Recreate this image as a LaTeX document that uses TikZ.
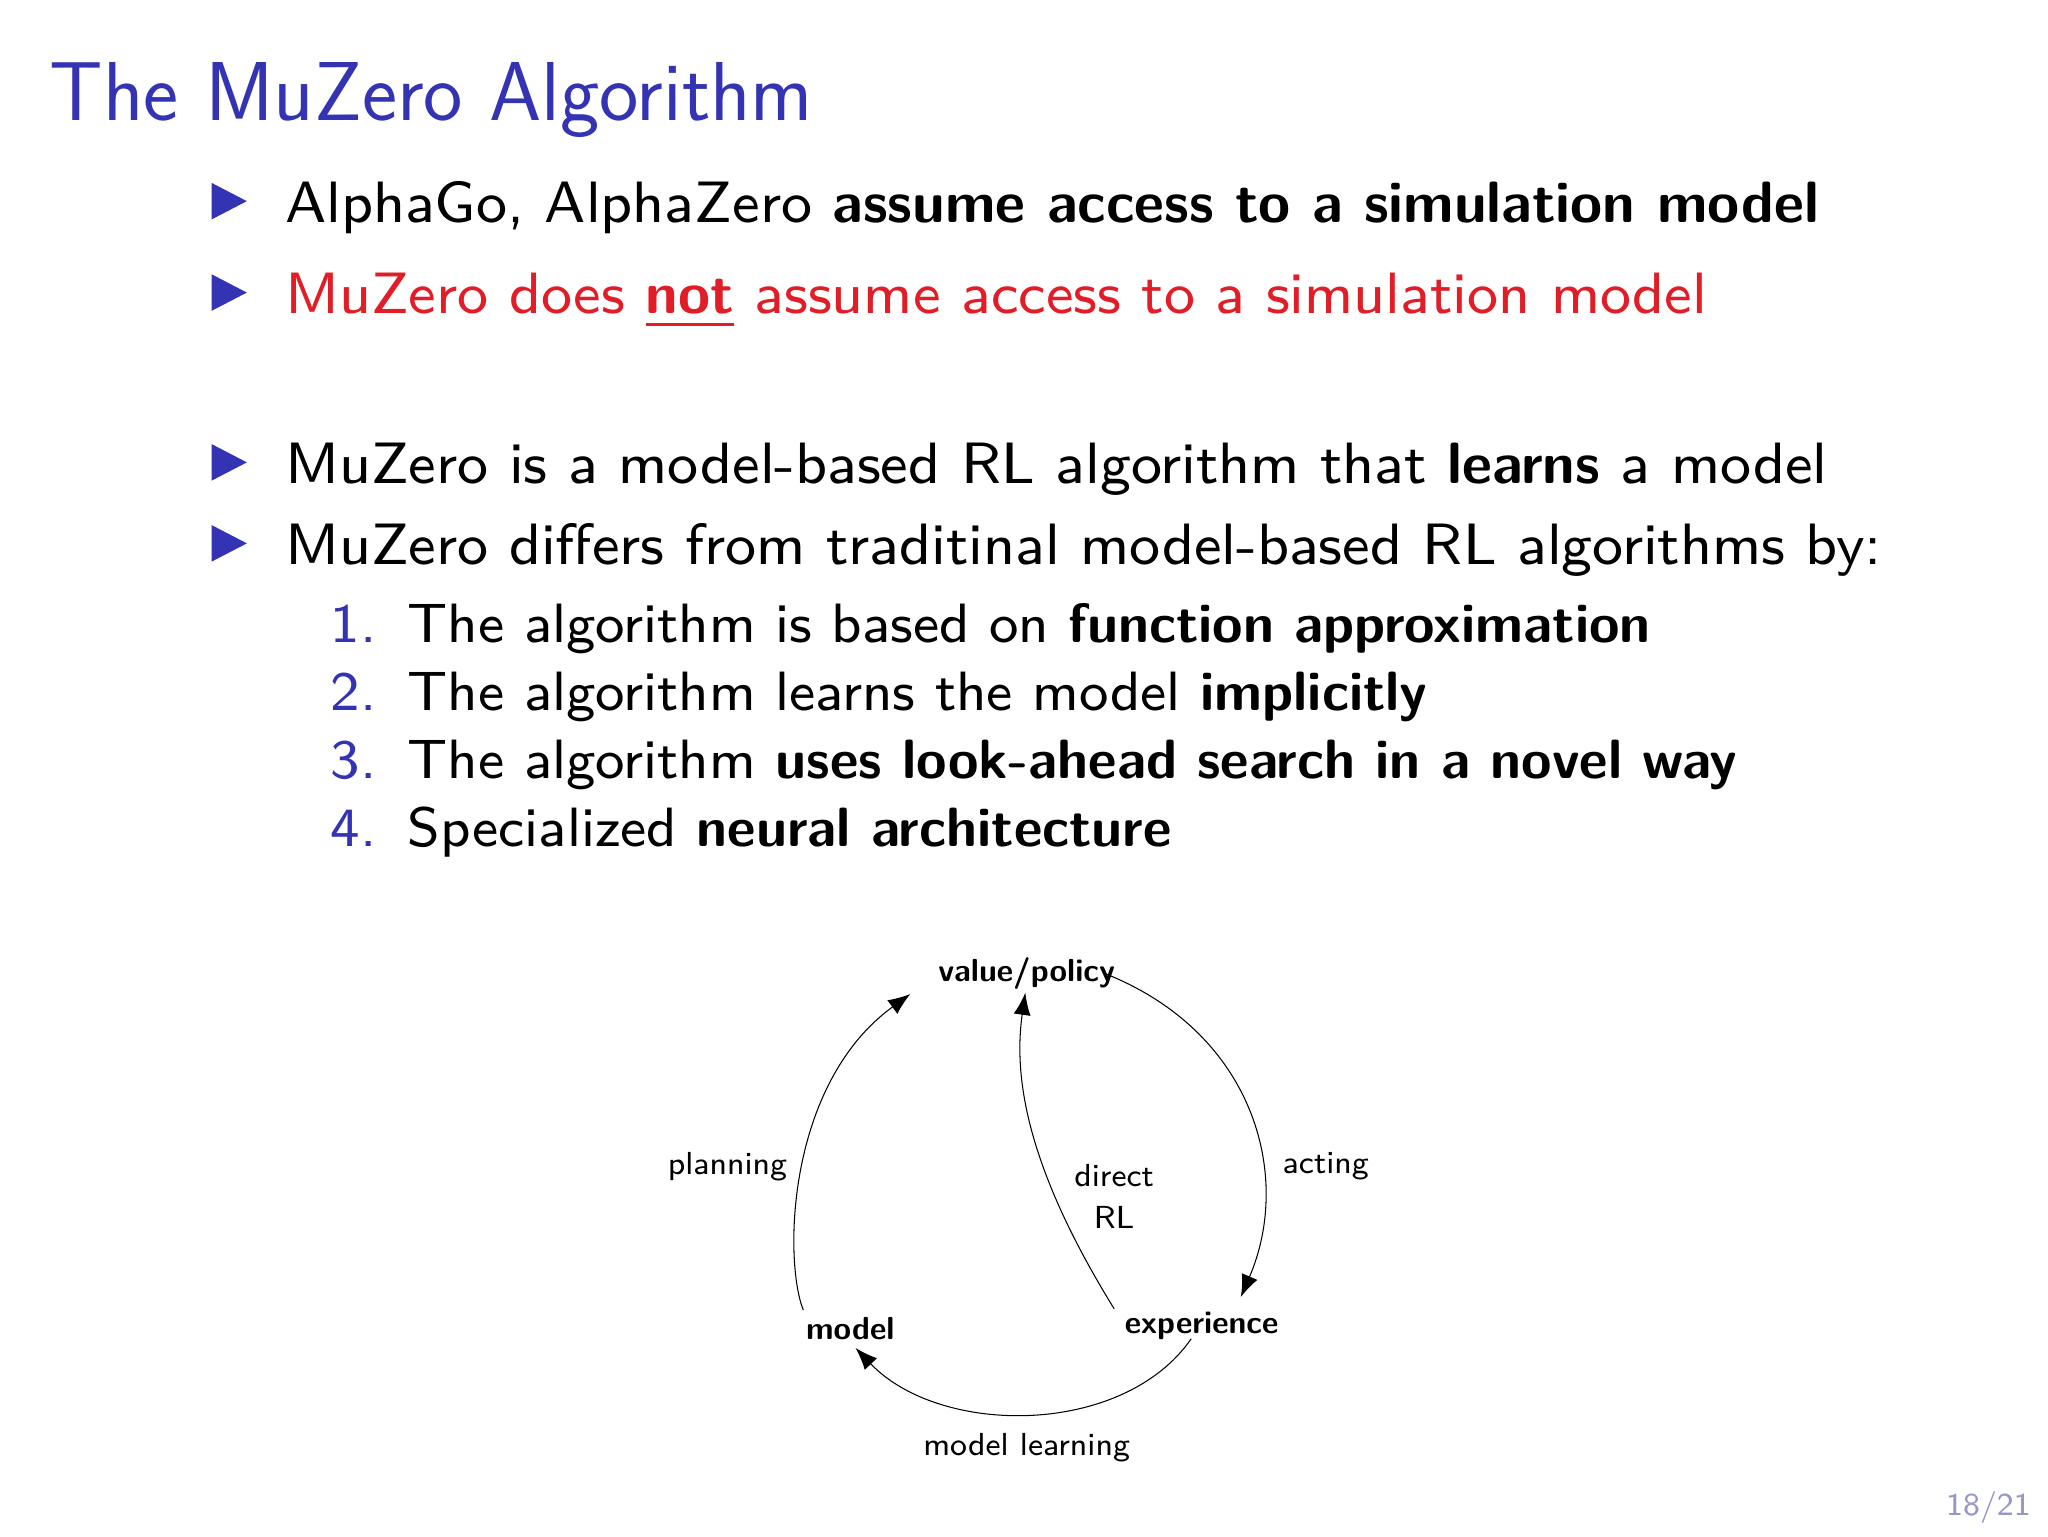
\documentclass[tikz,border=0pt]{standalone}
\usetikzlibrary{arrows.meta}
\definecolor{bblue}{RGB}{51,51,179}
\definecolor{rred}{RGB}{225,30,40}
\definecolor{pgray}{RGB}{150,150,200}
\newcommand{\bodyt}[1]{\scalebox{5.58}{\fontsize{8}{9}\selectfont #1}}
\newcommand{\enumt}[1]{\scalebox{5.3}{\fontsize{8}{9}\selectfont #1}}
\newcommand{\labt}[1]{\scalebox{3.05}{\fontsize{8}{9}\selectfont #1}}
\tikzset{
  txt/.style={anchor=base west,inner sep=0pt,font=\sffamily},
  lab/.style={inner sep=0pt,font=\sffamily},
  blab/.style={lab,font=\sffamily\bfseries},
  arc/.style={line width=0.8pt,-{Latex[length=17pt,width=13pt]}}
}
\begin{document}
\begin{tikzpicture}[x=1pt,y=-1pt]
\useasboundingbox[fill=white] (0,0) rectangle (1568,1176);
\node[anchor=base west,inner sep=0pt,text=bblue,font=\sffamily\fontsize{64}{70}\selectfont] (title) at (38,92) {The MuZero Algorithm};
\foreach \y in {170,240,370,432}{\fill[bblue] (162,\y-30) -- (189,\y-16) -- (162,\y-2) -- cycle;}
\node[txt] (b1) at (218,170) {\bodyt{AlphaGo, AlphaZero \textbf{assume access to a simulation model}}};
\node[txt,text=rred] (b2) at (218,240) {\bodyt{MuZero does \underline{\textbf{not}} assume access to a simulation model}};
\node[txt] (b3) at (218,370) {\bodyt{MuZero is a model-based RL algorithm that \textbf{learns} a model}};
\node[txt] (b4) at (218,432) {\bodyt{MuZero differs from traditinal model-based RL algorithms by:}};
\node[txt,text=bblue] (n1) at (253,492) {\enumt{1.}};
\node[txt,text=bblue] (n2) at (253,544) {\enumt{2.}};
\node[txt,text=bblue] (n3) at (253,596) {\enumt{3.}};
\node[txt,text=bblue] (n4) at (253,648) {\enumt{4.}};
\node[txt] (e1) at (312,492) {\enumt{The algorithm is based on \textbf{function approximation}}};
\node[txt] (e2) at (312,544) {\enumt{The algorithm learns the model \textbf{implicitly}}};
\node[txt] (e3) at (312,596) {\enumt{The algorithm \textbf{uses look-ahead search in a novel way}}};
\node[txt] (e4) at (312,648) {\enumt{Specialized \textbf{neural architecture}}};
% diagram
\node[blab] (vp) at (786,745) {\labt{value/policy}};
\node[blab] (mo) at (651,1017) {\labt{model}};
\node[blab] (ex) at (920,1015) {\labt{experience}};
\node[lab] (pl) at (557,893) {\labt{planning}};
\node[lab] (ac) at (1015,893) {\labt{acting}};
\node[lab] (dr1) at (853,900) {\labt{direct}};
\node[lab] (dr2) at (853,932) {\labt{RL}};
\node[lab] (ml) at (786,1108) {\labt{model learning}};
\coordinate (p1) at (615,1003); \coordinate (p2) at (697,761);
\coordinate (a1) at (845,745); \coordinate (a2) at (950,993);
\coordinate (m1) at (912,1025); \coordinate (m2) at (655,1032);
\coordinate (d1) at (853,1002); \coordinate (d2) at (785,760);
\draw[arc] (p1) .. controls (600,965) and (602,830) .. (p2);
\draw[arc] (a1) .. controls (960,790) and (990,900) .. (a2);
\draw[arc] (m1) .. controls (860,1100) and (720,1100) .. (m2);
\draw[arc] (d1) .. controls (790,900) and (775,830) .. (d2);
\node[anchor=base east,inner sep=0pt,text=pgray,font=\sffamily] (pg) at (1555,1160) {\labt{18/21}};
\end{tikzpicture}
\end{document}
